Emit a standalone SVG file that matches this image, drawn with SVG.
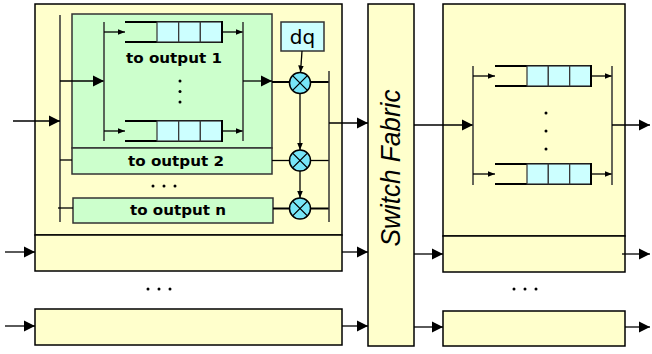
<svg xmlns="http://www.w3.org/2000/svg" width="652" height="354" viewBox="0 0 652 354">
<defs>
<style>
.box{fill:#FFFFCC;stroke:#000;stroke-width:1.5}
.green{fill:#CCFFCC;stroke:#333;stroke-width:1.5}
.cell{fill:#CCFFFF;stroke:#333;stroke-width:1.2}
.q{stroke:#000;stroke-width:2;fill:none}
.bar{stroke:#333;stroke-width:1.5;fill:none}
.ln{stroke:#000;stroke-width:1.3;fill:none}
.thick{stroke:#000;stroke-width:2;fill:none}
.mul{fill:#77E6F8;stroke:#000;stroke-width:1.5}
.lbl{font-family:"DejaVu Sans",sans-serif;font-weight:bold;font-size:14px;fill:#000}
.dot{fill:#000}
</style>
<marker id="big" markerUnits="userSpaceOnUse" markerWidth="12" markerHeight="12" refX="11" refY="6" orient="auto" viewBox="0 0 12 12">
<path d="M0,0.5 L11,6 L0,11.5 Z" fill="#000"/>
</marker>
<marker id="small" markerUnits="userSpaceOnUse" markerWidth="8" markerHeight="8" refX="7" refY="4" orient="auto" viewBox="0 0 8 8">
<path d="M0,1.2 L7,4 L0,6.8 Z" fill="#000"/>
</marker>
</defs>

<g id="input-port-1">
<rect class="box" x="35" y="4" width="307" height="231"/>
<rect class="box" x="35" y="235" width="307" height="36"/>
</g>
<g id="input-port-n">
<rect class="box" x="35" y="309" width="307" height="36"/>
</g>
<g id="switch-fabric">
<rect class="box" x="368" y="4" width="46" height="342"/>
<text transform="translate(400,168) rotate(-90)" text-anchor="middle" font-family="Liberation Sans,Arial,sans-serif" font-style="italic" font-size="28" textLength="157" lengthAdjust="spacingAndGlyphs">Switch Fabric</text>
</g>
<g id="output-port-1">
<rect class="box" x="443" y="4" width="182" height="232"/>
<rect class="box" x="443" y="236" width="182" height="36"/>
</g>
<g id="output-port-n">
<rect class="box" x="443" y="311" width="182" height="35"/>
</g>

<g id="voq-output-1">
<rect class="green" x="72" y="14" width="200" height="134"/>
<line class="q" x1="125" y1="22" x2="222" y2="22"/>
<line class="q" x1="125" y1="42" x2="222" y2="42"/>
<rect class="cell" x="157" y="22" width="21.7" height="20"/>
<rect class="cell" x="178.7" y="22" width="21.7" height="20"/>
<rect class="cell" x="200.3" y="22" width="21.7" height="20"/>
<line class="q" x1="125" y1="121" x2="222" y2="121"/>
<line class="q" x1="125" y1="141" x2="222" y2="141"/>
<rect class="cell" x="157" y="121" width="21.7" height="20"/>
<rect class="cell" x="178.7" y="121" width="21.7" height="20"/>
<rect class="cell" x="200.3" y="121" width="21.7" height="20"/>
<line class="q" x1="222" y1="21" x2="222" y2="43"/>
<line class="q" x1="222" y1="120" x2="222" y2="142"/>
<text class="lbl" x="174" y="63" text-anchor="middle" textLength="96" lengthAdjust="spacingAndGlyphs">to output 1</text>
<circle class="dot" cx="180" cy="81" r="1.5"/>
<circle class="dot" cx="180" cy="91.5" r="1.5"/>
<circle class="dot" cx="180" cy="102" r="1.5"/>
</g>
<g id="voq-output-2">
<rect class="green" x="72" y="148" width="200" height="26"/>
<text class="lbl" x="176" y="166" text-anchor="middle" textLength="96" lengthAdjust="spacingAndGlyphs">to output 2</text>
</g>
<g id="voq-output-n">
<rect class="green" x="73" y="198" width="200" height="25"/>
<text class="lbl" x="178" y="215" text-anchor="middle" textLength="96" lengthAdjust="spacingAndGlyphs">to output n</text>
</g>
<g id="dq">
<rect fill="#CCFFFF" stroke="#333" stroke-width="1.5" x="281" y="22" width="43" height="29"/>
<text x="302.5" y="44" text-anchor="middle" font-family="DejaVu Sans,sans-serif" font-size="20">dq</text>
</g>
<g id="mul-1"><circle class="mul" cx="300" cy="83" r="10.5"/><path class="ln" d="M292.6,75.6 L307.4,90.4 M307.4,75.6 L292.6,90.4"/></g>
<g id="mul-2"><circle class="mul" cx="300" cy="160.5" r="10.5"/><path class="ln" d="M292.6,153.1 L307.4,167.9 M307.4,153.1 L292.6,167.9"/></g>
<g id="mul-3"><circle class="mul" cx="300" cy="208.5" r="10.5"/><path class="ln" d="M292.6,201.1 L307.4,215.9 M307.4,201.1 L292.6,215.9"/></g>

<g id="output-queues">
<line class="q" x1="495" y1="66" x2="591" y2="66"/>
<line class="q" x1="495" y1="86" x2="591" y2="86"/>
<rect class="cell" x="527" y="66" width="21.3" height="20"/>
<rect class="cell" x="548.3" y="66" width="21.3" height="20"/>
<rect class="cell" x="569.7" y="66" width="21.3" height="20"/>
<line class="q" x1="495" y1="164" x2="591" y2="164"/>
<line class="q" x1="495" y1="184" x2="591" y2="184"/>
<rect class="cell" x="527" y="164" width="21.3" height="20"/>
<rect class="cell" x="548.3" y="164" width="21.3" height="20"/>
<rect class="cell" x="569.7" y="164" width="21.3" height="20"/>
<line class="q" x1="591" y1="65" x2="591" y2="87"/>
<line class="q" x1="591" y1="163" x2="591" y2="185"/>
<circle class="dot" cx="546" cy="113" r="1.5"/>
<circle class="dot" cx="546" cy="131" r="1.5"/>
<circle class="dot" cx="546" cy="149" r="1.5"/>
</g>

<g id="ellipses">
<circle class="dot" cx="153" cy="186" r="1.5"/><circle class="dot" cx="164" cy="186" r="1.5"/><circle class="dot" cx="175" cy="186" r="1.5"/>
<circle class="dot" cx="148" cy="289" r="1.5"/><circle class="dot" cx="159" cy="289" r="1.5"/><circle class="dot" cx="170" cy="289" r="1.5"/>
<circle class="dot" cx="514" cy="289" r="1.5"/><circle class="dot" cx="525" cy="289" r="1.5"/><circle class="dot" cx="536" cy="289" r="1.5"/>
</g>

<g id="connectors">
<!-- input port 1 internals -->
<line class="bar" x1="60" y1="15" x2="60" y2="222"/>
<line class="ln" x1="13" y1="121" x2="60" y2="121" marker-end="url(#big)"/>
<line class="ln" x1="60" y1="81" x2="104" y2="81" marker-end="url(#big)"/>
<line class="ln" x1="60" y1="160" x2="72" y2="160"/>
<line class="ln" x1="58" y1="208" x2="73" y2="208"/>
<line class="bar" x1="104" y1="22" x2="104" y2="141"/>
<line class="ln" x1="104" y1="32" x2="125" y2="32" marker-end="url(#small)"/>
<line class="ln" x1="104" y1="131" x2="125" y2="131" marker-end="url(#small)"/>
<line class="ln" x1="222" y1="32" x2="243" y2="32" marker-end="url(#small)"/>
<line class="ln" x1="222" y1="131" x2="243" y2="131" marker-end="url(#small)"/>
<line class="bar" x1="243" y1="22" x2="243" y2="141"/>
<line class="ln" x1="243" y1="81" x2="272" y2="81" marker-end="url(#big)"/>
<line class="thick" x1="272" y1="82" x2="289.5" y2="82"/>
<line class="thick" x1="310.5" y1="82" x2="329" y2="82"/>
<line class="ln" x1="302" y1="51" x2="300.5" y2="72.5" marker-end="url(#small)"/>
<line class="ln" x1="300" y1="93.5" x2="300" y2="150" marker-end="url(#small)"/>
<line class="ln" x1="300" y1="171" x2="300" y2="198" marker-end="url(#small)"/>
<line class="ln" x1="272" y1="160.5" x2="289.5" y2="160.5"/>
<line class="ln" x1="310.5" y1="160.5" x2="329" y2="160.5"/>
<line class="thick" x1="273" y1="208.5" x2="289.5" y2="208.5"/>
<line class="thick" x1="310.5" y1="208.5" x2="329" y2="208.5"/>
<line class="bar" x1="329" y1="71" x2="329" y2="222"/>
<line class="ln" x1="329" y1="123" x2="368" y2="123" marker-end="url(#big)"/>
<!-- input rows 2 and n -->
<line class="ln" x1="5" y1="252" x2="35" y2="252" marker-end="url(#big)"/>
<line class="ln" x1="342" y1="252" x2="368" y2="252" marker-end="url(#big)"/>
<line class="ln" x1="5" y1="326" x2="35" y2="326" marker-end="url(#big)"/>
<line class="ln" x1="342" y1="326" x2="368" y2="326" marker-end="url(#big)"/>
<!-- switch to outputs -->
<line class="ln" x1="414" y1="125" x2="473" y2="125" marker-end="url(#big)"/>
<line class="ln" x1="414" y1="254" x2="443" y2="254" marker-end="url(#big)"/>
<line class="ln" x1="414" y1="327" x2="443" y2="327" marker-end="url(#big)"/>
<!-- output port internals -->
<line class="bar" x1="473" y1="66" x2="473" y2="185"/>
<line class="ln" x1="473" y1="76" x2="495" y2="76" marker-end="url(#small)"/>
<line class="ln" x1="473" y1="174" x2="495" y2="174" marker-end="url(#small)"/>
<line class="ln" x1="591" y1="76" x2="612" y2="76" marker-end="url(#small)"/>
<line class="ln" x1="591" y1="174" x2="612" y2="174" marker-end="url(#small)"/>
<line class="bar" x1="612" y1="66" x2="612" y2="185"/>
<line class="ln" x1="612" y1="125" x2="650" y2="125" marker-end="url(#big)"/>
<line class="ln" x1="622" y1="254" x2="650" y2="254" marker-end="url(#big)"/>
<line class="ln" x1="625" y1="327" x2="650" y2="327" marker-end="url(#big)"/>
</g>
</svg>
